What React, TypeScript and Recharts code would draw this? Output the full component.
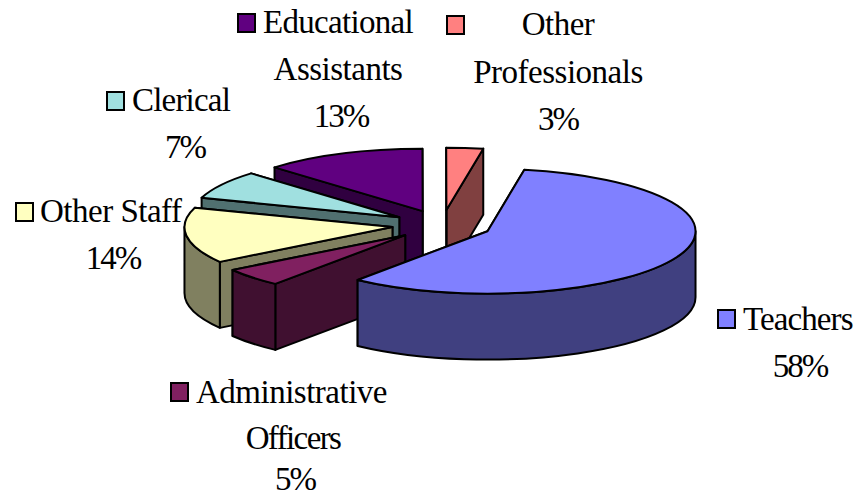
import { Pie, PieChart } from "recharts";

// listed back to front, so the pie paints in the right order when it runs counter-clockwise
const categories = [
  "Other Professionals",
  "Educational Assistants",
  "Clerical",
  "Other Staff",
  "Administrative Officers",
  "Teachers",
];
const shares = [2.85, 12.6, 7.35, 14.45, 4.85, 57.9];
const topColors = ["#FF8080", "#600080", "#A0E0E0", "#FFFFC0", "#802060", "#8080FF"];
const wallColors = ["#804040", "#300040", "#507070", "#808060", "#401030", "#404080"];

const tableData = categories.map((name, i) => ({
  name,
  value: shares[i],
  fill: topColors[i],
  wall: wallColors[i],
}));

const TILT = 0.3;
const DEPTH = 66;
const EXPLODE = 50;
const FONT = "'Liberation Serif', serif";

type LabelLine = { text: string; x: number; y: number; anchor: "start" | "middle"; spacing?: number };
type LabelSpot = { key: [number, number]; lines: LabelLine[]; pct: [number, number] };

const labelSpots: Record<string, LabelSpot> = {
  "Other Professionals": {
    key: [447, 16],
    lines: [
      { text: "Other", x: 558, y: 35, anchor: "middle" },
      { text: "Professionals", x: 558, y: 83, anchor: "middle" },
    ],
    pct: [558, 130],
  },
  "Educational Assistants": {
    key: [238, 14],
    lines: [
      { text: "Educational", x: 263, y: 33, anchor: "start", spacing: -0.7 },
      { text: "Assistants", x: 338, y: 80, anchor: "middle" },
    ],
    pct: [341, 127],
  },
  Clerical: {
    key: [107, 92],
    lines: [{ text: "Clerical", x: 132, y: 111, anchor: "start", spacing: -0.8 }],
    pct: [185, 158],
  },
  "Other Staff": {
    key: [16, 203],
    lines: [{ text: "Other Staff", x: 40, y: 222, anchor: "start" }],
    pct: [113, 269],
  },
  "Administrative Officers": {
    key: [171, 383],
    lines: [
      { text: "Administrative", x: 196, y: 403, anchor: "start" },
      { text: "Officers", x: 293, y: 449, anchor: "middle", spacing: -1.6 },
    ],
    pct: [295, 490],
  },
  Teachers: {
    key: [718, 310],
    lines: [{ text: "Teachers", x: 743, y: 330, anchor: "start", spacing: -0.9 }],
    pct: [800, 377],
  },
};

const rad = (deg: number) => (deg * Math.PI) / 180;

function Slice3D(props: any) {
  const { cx, cy, outerRadius: r, startAngle, endAngle, fill, payload } = props;
  const a1 = Math.min(startAngle, endAngle);
  const a2 = Math.max(startAngle, endAngle);
  const mid = (a1 + a2) / 2;
  const ox = cx + EXPLODE * Math.cos(rad(mid));
  const oy = cy - EXPLODE * TILT * Math.sin(rad(mid));
  const ry = r * TILT;
  const wall = payload?.wall ?? props.wall;

  const pt = (a: number, dz = 0) =>
    `${ox + r * Math.cos(rad(a))},${oy - ry * Math.sin(rad(a)) + dz}`;
  const cut = (a: number) =>
    `M${ox},${oy} L${pt(a)} L${pt(a, DEPTH)} L${ox},${oy + DEPTH} Z`;

  // only the part of the rim facing the viewer gets a wall
  const rims: string[] = [];
  [[180, 360], [540, 720]].forEach(([lo, hi]) => {
    const s = Math.max(a1, lo);
    const e = Math.min(a2, hi);
    if (e > s) {
      const big = e - s > 180 ? 1 : 0;
      rims.push(
        `M${pt(s)} A${r},${ry} 0 ${big} 0 ${pt(e)} L${pt(e, DEPTH)} A${r},${ry} 0 ${big} 1 ${pt(s, DEPTH)} Z`,
      );
    }
  });

  const big = a2 - a1 > 180 ? 1 : 0;
  const top = `M${ox},${oy} L${pt(a1)} A${r},${ry} 0 ${big} 0 ${pt(a2)} Z`;
  const edge = { stroke: "#000", strokeWidth: 2, strokeLinejoin: "round" as const };

  return (
    <g>
      <path d={cut(a1)} fill={wall} {...edge} />
      <path d={cut(a2)} fill={wall} {...edge} />
      {rims.map((d) => (
        <path key={d} d={d} fill={wall} {...edge} />
      ))}
      <path d={top} fill={fill} {...edge} />
    </g>
  );
}

function SliceLabel(props: any) {
  const name = props.name ?? props.payload?.name;
  const spot = labelSpots[name];
  if (!spot) return null;
  const textStyle = { fontFamily: FONT, fontSize: 33, fill: "#000" };
  return (
    <g>
      <rect
        x={spot.key[0]}
        y={spot.key[1]}
        width={17}
        height={18}
        fill={props.fill}
        stroke="#000"
        strokeWidth={2}
      />
      {spot.lines.map((l) => (
        <text
          key={l.text}
          x={l.x}
          y={l.y}
          textAnchor={l.anchor}
          stroke="none"
          letterSpacing={l.spacing ?? -0.5}
          {...textStyle}
        >
          {l.text}
        </text>
      ))}
      <text
        x={spot.pct[0]}
        y={spot.pct[1]}
        textAnchor="middle"
        stroke="none"
        letterSpacing={-2}
        {...textStyle}
      >
        {`${Math.round(props.percent * 100)}%`}
      </text>
    </g>
  );
}

export default function App() {
  return (
    <div style={{ position: "absolute", left: 0, top: 0, width: 854, height: 498, background: "#fff" }}>
      <PieChart width={854} height={498} margin={{ top: 0, right: 0, bottom: 0, left: 0 }}>
        <Pie
          data={tableData}
          dataKey="value"
          nameKey="name"
          cx={442}
          cy={225}
          outerRadius={208}
          startAngle={79.8}
          endAngle={439.8}
          stroke="none"
          shape={Slice3D}
          label={SliceLabel}
          labelLine={false}
          isAnimationActive={false}
        />
      </PieChart>
    </div>
  );
}
